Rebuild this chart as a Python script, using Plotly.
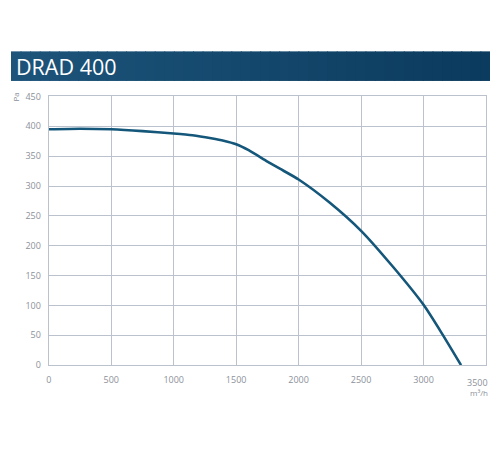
import plotly.graph_objects as go

# ── data ─────────────────────────────────────────────────────────────
flow_m3h = [0, 250, 500, 750, 1000, 1150, 1300, 1400, 1500, 1600, 1750, 1850,
            2000, 2250, 2500, 2750, 3000, 3150, 3300]
pressure_pa = [395, 396, 395, 392, 388, 385, 380, 376, 370, 360, 341, 329,
               311, 272, 225, 166, 101, 52, 0]

x_ticks = [0, 500, 1000, 1500, 2000, 2500, 3000, 3500]
y_ticks = [0, 50, 100, 150, 200, 250, 300, 350, 400, 450]

TITLE = 'DRAD 400'
GRID = '#bcc2cd'
MUTED = '#8c919a'
CURVE = '#14577a'
FONT = 'Open Sans, Noto Sans, sans-serif'

# the page body keeps its 8px margin; the figure is sized so that the page
# still fits the 500x450 window, and positions below are window pixels
OFF = 8
W, H = 500 - 2 * OFF - 2, 450 - 2 * OFF - 2


def px(x):
    return (x - OFF) / W


def py(y):
    return 1 - (y - OFF) / H


def lerp_color(c1, c2, t):
    a = [int(c1[i:i + 2], 16) for i in (1, 3, 5)]
    b = [int(c2[i:i + 2], 16) for i in (1, 3, 5)]
    return '#' + ''.join(f'{round(a[k] + (b[k] - a[k]) * t):02x}' for k in range(3))


fig = go.Figure()

fig.add_trace(go.Scatter(
    x=flow_m3h, y=pressure_pa,
    mode='lines',
    line=dict(color=CURVE, width=2.6, shape='spline', smoothing=0.6),
    hoverinfo='skip',
    showlegend=False,
))

# header bar with a soft left-to-right gradient
shapes = []
n = 50
for i in range(n):
    shapes.append(dict(
        type='rect', xref='paper', yref='paper',
        x0=i / n, x1=(i + 1) / n + 0.002,
        y0=py(76), y1=py(45.5),
        fillcolor=lerp_color('#1d547a', '#0b3b5e', i / (n - 1)),
        line=dict(width=0), layer='below',
    ))

# the last x label would overflow the figure edge, so it is pinned inside it
last_tick = x_ticks[-1]
x_labels = [str(v) if v != last_tick else '' for v in x_ticks]

fig.update_layout(
    width=W, height=H,
    margin=dict(l=0, r=0, t=0, b=0),
    paper_bgcolor='white', plot_bgcolor='white',
    font=dict(family=FONT, color=MUTED, size=9),
    shapes=shapes,
    annotations=[
        dict(text=TITLE, xref='paper', yref='paper', x=px(11), y=py(61),
             xanchor='left', yanchor='middle', showarrow=False,
             font=dict(family=FONT, size=21.5, color='white')),
        dict(text='Pa', xref='paper', yref='paper', x=px(13), y=py(92),
             xanchor='center', yanchor='middle', showarrow=False, textangle=-90,
             font=dict(size=8, color=MUTED)),
        dict(text='m³/h', xref='paper', yref='paper', x=px(479), y=py(397),
             xanchor='center', yanchor='middle', showarrow=False,
             font=dict(size=8, color=MUTED)),
        dict(text=str(last_tick), xref='paper', yref='paper', x=1, y=py(387),
             xanchor='right', yanchor='middle', showarrow=False,
             font=dict(size=9, color=MUTED)),
    ],
)

fig.update_xaxes(
    domain=[px(46), px(486)], range=[0, 3500],
    tickvals=x_ticks, ticktext=x_labels, ticks='', showgrid=True, gridcolor=GRID, gridwidth=1,
    showline=True, linecolor=GRID, linewidth=1.2, mirror=True, zeroline=False,
    tickfont=dict(size=9, color=MUTED), ticklabelstandoff=6, fixedrange=True,
)
fig.update_yaxes(
    domain=[py(369), py(92)], range=[0, 450],
    tickvals=y_ticks, ticks='', showgrid=True, gridcolor=GRID, gridwidth=1,
    showline=True, linecolor=GRID, linewidth=1.2, mirror=True, zeroline=False,
    tickfont=dict(size=9, color=MUTED), ticklabelstandoff=5, fixedrange=True,
)

fig.write_html('out.html', config={'displayModeBar': False})
